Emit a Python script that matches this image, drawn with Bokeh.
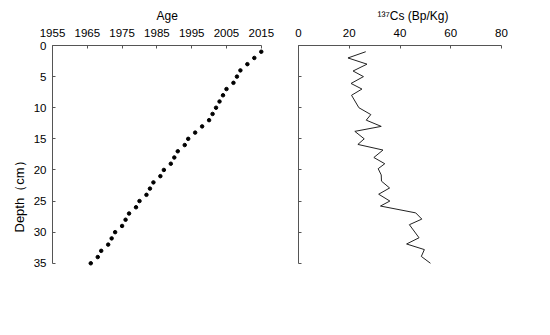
from bokeh.plotting import figure
from bokeh.layouts import row
from bokeh.models import Range1d, FixedTicker, Title
from bokeh.embed import file_html
from bokeh.resources import INLINE

depth = list(range(1, 36))
age = [2015, 2013, 2011, 2009, 2008, 2007, 2005, 2004, 2003, 2002, 2001, 2000,
       1998, 1996, 1994, 1993, 1991, 1990, 1989, 1987, 1986, 1984, 1983, 1982,
       1980, 1979, 1977, 1976, 1975, 1973, 1972, 1971, 1969, 1968, 1966]
cs_depth = [1, 2, 3, 4.1, 5, 6.1, 7, 8, 10, 11.1, 12, 13, 13.8, 15, 15.9, 16.8, 18,
            19, 19.8, 20.8, 21.8, 22.9, 23.9, 25, 25.8, 26.9, 27.9, 28.8, 30.9,
            31.9, 32.8, 33.9, 35]
cs = [26.5, 19.5, 27, 21.5, 25.6, 20.7, 25, 20.9, 23.8, 28.5, 26.7, 32.6, 22.2,
      25.9, 23.4, 33.3, 29.7, 34, 31.4, 32.6, 32.7, 35.9, 31.6, 36, 32.3, 46.2,
      48.6, 43.7, 47.5, 42.6, 49.6, 48.4, 52]
age_ticks = [1955, 1965, 1975, 1985, 1995, 2005, 2015]
cs_ticks = [0, 20, 40, 60, 80]
depth_ticks = [0, 5, 10, 15, 20, 25, 30, 35]

FONT = "Liberation Sans"
AX = "#555555"


def style(p, xticks, show_ylabels):
    p.xaxis.ticker = FixedTicker(ticks=xticks)
    p.yaxis.ticker = FixedTicker(ticks=depth_ticks)
    for ax in (p.xaxis, p.yaxis):
        ax.axis_line_color = AX
        ax.major_tick_line_color = AX
        ax.major_tick_in = 3
        ax.major_tick_out = 0
        ax.minor_tick_line_color = None
        ax.major_label_text_font = FONT
        ax.major_label_text_font_size = "11.5px"
        ax.major_label_text_color = "black"
    p.xaxis.major_label_standoff = 9
    p.yaxis.major_label_standoff = 6
    p.yaxis.bounds = (0, 35)
    if not show_ylabels:
        p.yaxis.major_label_overrides = {t: "" for t in depth_ticks}
        p.yaxis.major_label_standoff = 0
    p.xgrid.visible = False
    p.ygrid.visible = False
    p.outline_line_color = None
    p.background_fill_color = "white"
    p.border_fill_color = "white"


def title(p, text, side, size, offset, standoff):
    p.add_layout(Title(text=text, align="left", offset=offset, standoff=standoff,
                       text_font=FONT, text_font_size=size,
                       text_font_style="normal", text_color="black"), side)


p1 = figure(frame_width=214, frame_height=224, output_backend="svg",
            toolbar_location=None, x_axis_location="above",
            x_range=Range1d(1955, 2016.5), y_range=Range1d(36, 0),
            min_border_left=52, min_border_right=10, min_border_top=45,
            min_border_bottom=10)
style(p1, age_ticks, True)
p1.xaxis.bounds = (1955, 2015)
p1.scatter(age, depth, size=3.5, color="black")
title(p1, "Age", "above", "12px", 104, 5)
title(p1, "Depth（cm）", "left", "13px", 37, 8)

p2 = figure(frame_width=203, frame_height=224, output_backend="svg",
            toolbar_location=None, x_axis_location="above",
            x_range=Range1d(0, 80), y_range=Range1d(36, 0),
            min_border_left=22, min_border_right=20, min_border_top=45,
            min_border_bottom=10)
style(p2, cs_ticks, False)
p2.line(cs, cs_depth, line_color="#222222", line_width=1)
title(p2, "¹³⁷Cs (Bp/Kg)", "above", "12px", 79, 5)

layout = row(p1, p2)
open("out.html", "w").write(file_html(layout, INLINE))
